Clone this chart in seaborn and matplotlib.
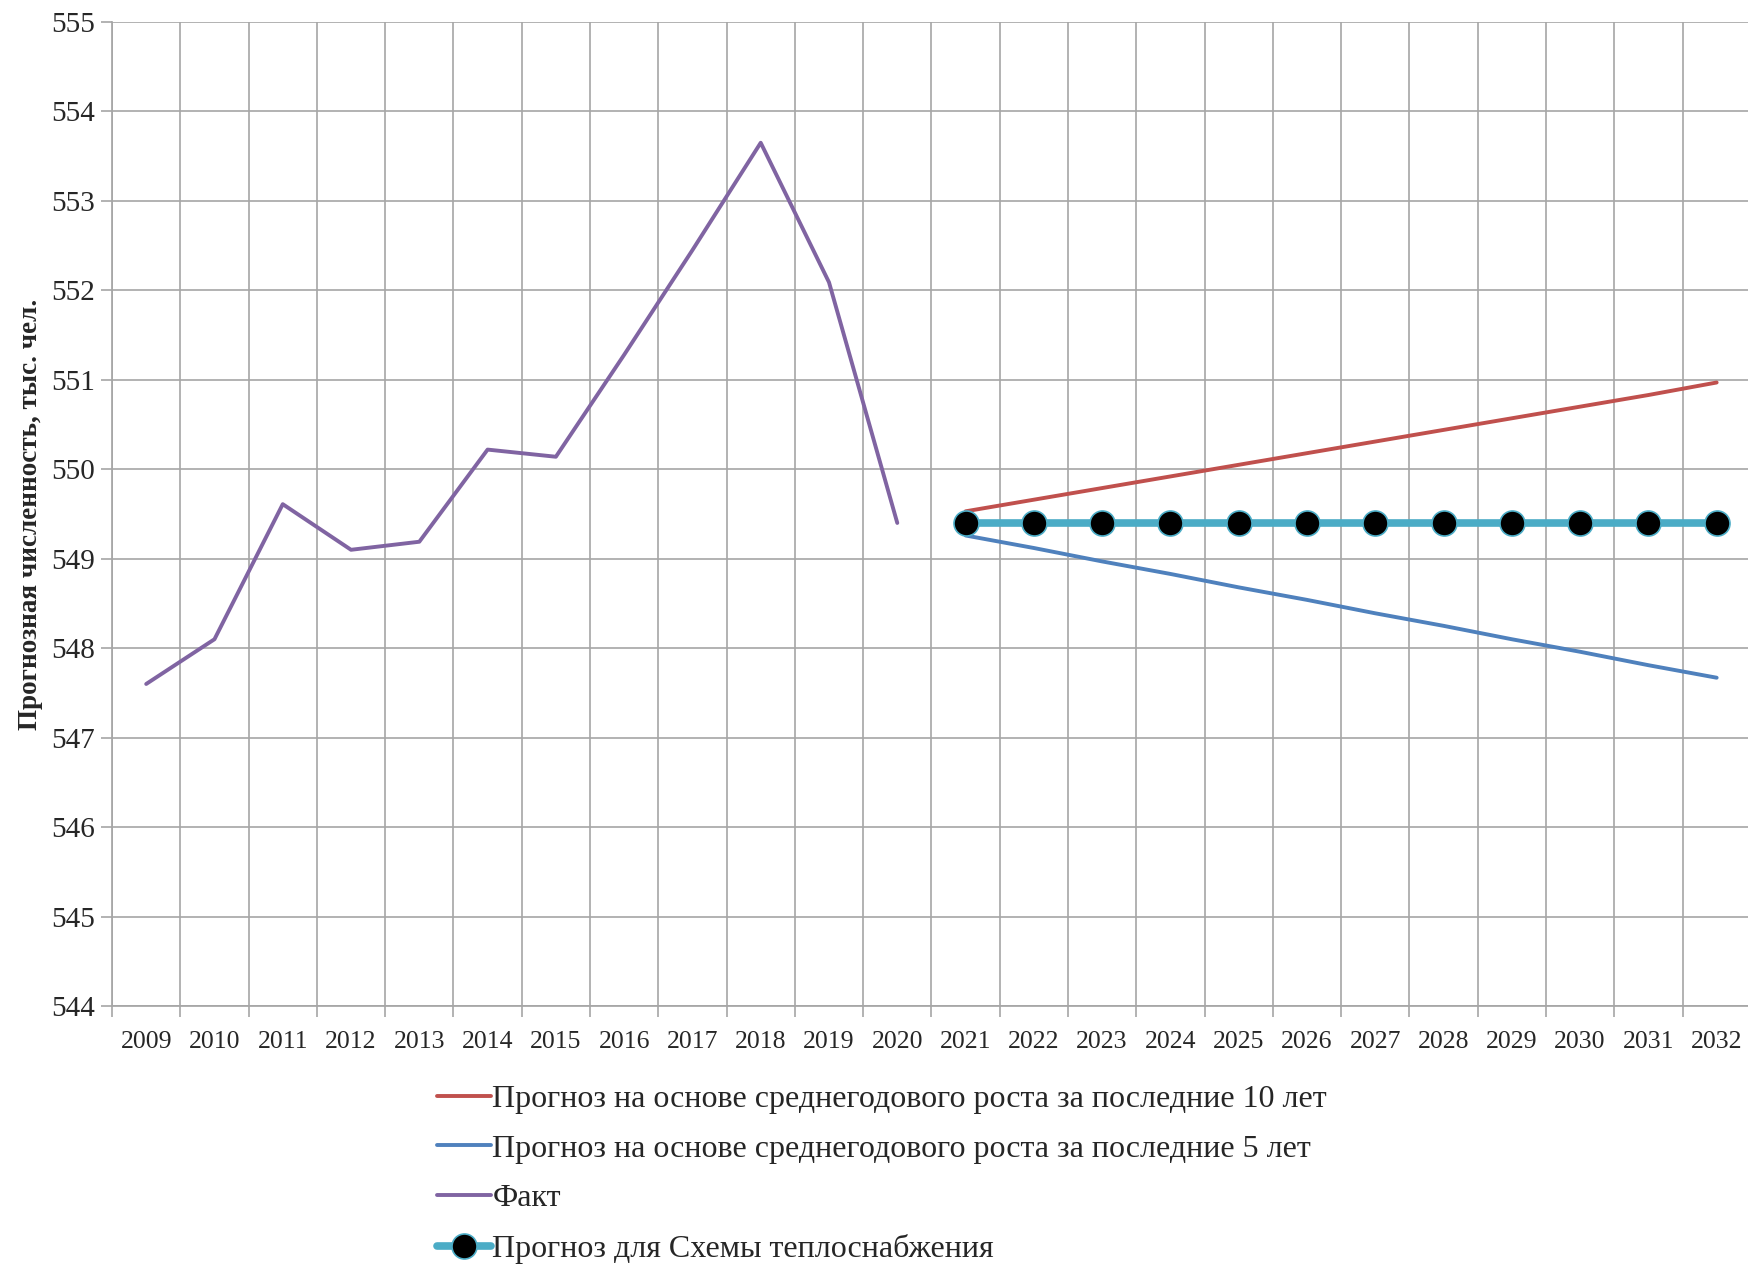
import pandas as pd
import seaborn as sns
import matplotlib.pyplot as plt

# Данные
years_all = list(range(2009, 2033))
fact_years = list(range(2009, 2021))
fact_vals = [547.60, 548.10, 549.61, 549.10, 549.19, 550.22,
             550.14, 551.28, 552.45, 553.65, 552.09, 549.40]
fc_years = list(range(2021, 2033))
trend10_vals = [549.53, 549.66, 549.79, 549.92, 550.05, 550.18,
                550.31, 550.44, 550.57, 550.70, 550.83, 550.97]
trend5_vals = [549.26, 549.12, 548.97, 548.83, 548.68, 548.54,
               548.39, 548.25, 548.10, 547.96, 547.81, 547.67]
scheme_vals = [549.40, 549.40, 549.40, 549.40, 549.40, 549.40,
               549.40, 549.40, 549.40, 549.40, 549.40, 549.40]

lbl_10 = "Прогноз на основе среднегодового роста за последние 10 лет"
lbl_5 = "Прогноз на основе среднегодового роста за последние 5 лет"
lbl_fact = "Факт"
lbl_scheme = "Прогноз для Схемы теплоснабжения"

c_red = "#C0504D"
c_blue = "#4F81BD"
c_purple = "#8064A2"
c_teal = "#4BACC6"
c_grid = "#A6A6A6"

sns.set_theme(style="whitegrid")
plt.rcParams.update({
    "font.family": ["Liberation Serif", "DejaVu Serif"],
    "axes.edgecolor": c_grid,
    "grid.color": c_grid,
    "grid.linewidth": 1.2,
    "text.color": "#262626",
    "xtick.color": "#262626",
    "ytick.color": "#262626",
})

fig = plt.figure(figsize=(17.48, 12.64), dpi=100)
ax = fig.add_axes([0.0641, 0.2041, 0.9375, 0.7785])

df_fact = pd.DataFrame({"year": fact_years, "val": fact_vals})
df_fc = pd.DataFrame({"year": fc_years, "t10": trend10_vals,
                      "t5": trend5_vals, "scheme": scheme_vals})

sns.lineplot(data=df_fc, x="year", y="t10", color=c_red, linewidth=2.8,
             label=lbl_10, ax=ax, zorder=3)
sns.lineplot(data=df_fc, x="year", y="t5", color=c_blue, linewidth=2.8,
             label=lbl_5, ax=ax, zorder=3)
sns.lineplot(data=df_fact, x="year", y="val", color=c_purple, linewidth=2.8,
             label=lbl_fact, ax=ax, zorder=3)
sns.lineplot(data=df_fc, x="year", y="scheme", color=c_teal, linewidth=5.5,
             marker="o", markersize=18, markerfacecolor="black",
             markeredgecolor=c_teal, markeredgewidth=1.2,
             label=lbl_scheme, ax=ax, zorder=4)

ax.set_xlim(2008.5, 2032.5)
ax.set_ylim(544, 555)
ax.set_yticks(range(544, 556))
ax.set_xticks(years_all)
ax.set_xticklabels([str(y) for y in years_all], fontsize=18.5)
ax.set_xticks([y - 0.5 for y in years_all] + [2032.5], minor=True)
ax.tick_params(axis="y", labelsize=21, length=8, width=1.2, color=c_grid,
               left=True, pad=4)
ax.tick_params(axis="x", which="major", length=0, pad=18)
ax.tick_params(axis="x", which="minor", length=8, width=1.2, color=c_grid,
               bottom=True)
ax.grid(False, axis="x", which="major")
ax.grid(True, axis="x", which="minor")
ax.grid(True, axis="y", which="major")

for side in ["top", "right"]:
    ax.spines[side].set_visible(False)
ax.spines["left"].set_color(c_grid)
ax.spines["bottom"].set_color(c_grid)

ax.set_xlabel("")
ax.set_ylabel("Прогнозная численность, тыс. чел.", fontsize=19.5,
              fontweight="bold")
ax.yaxis.set_label_coords(-0.042, 0.5)

handles, labels = ax.get_legend_handles_labels()
ax.get_legend().remove()
fig.legend(handles, labels, loc="upper left",
           bbox_to_anchor=(0.25, 0.142), frameon=False,
           fontsize=23, handlelength=1.68, handletextpad=0.05,
           labelspacing=0.64, borderpad=0, borderaxespad=0)

fig.savefig("out.png", dpi=100)
